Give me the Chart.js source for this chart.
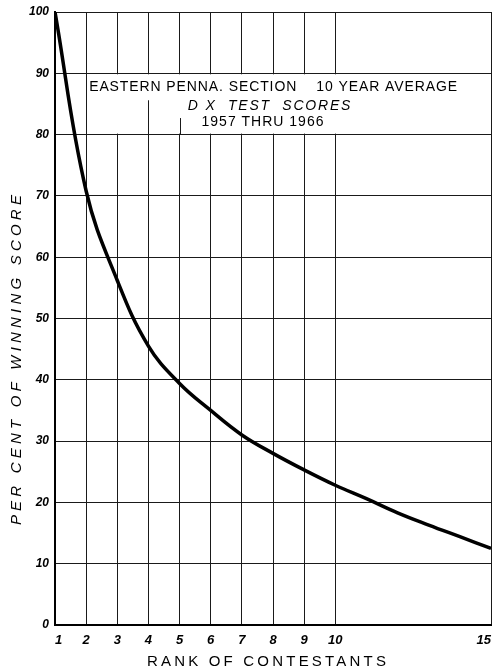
<!DOCTYPE html>
<html>
<head>
<meta charset="utf-8">
<script src="https://cdn.jsdelivr.net/npm/chart.js@4.4.1/dist/chart.umd.min.js"></script>
<style>
  html, body { margin: 0; padding: 0; background: #fff; }
  #wrap { width: 492px; height: 670px; }
</style>
</head>
<body>
<div id="wrap"><canvas id="rankChart" width="492" height="670"></canvas></div>
<script>
// rank of contestant vs. per cent of the winning score
const ranks = [1, 2, 3, 4, 5, 6, 7, 8, 9, 10, 11, 12, 13, 14, 15];
const percentOfWinner = [100, 70.8, 56.2, 45.5, 39.4, 35, 31, 28, 25.3, 22.8, 20.6, 18.3, 16.3, 14.4, 12.5];
const rankTicks = [1, 2, 3, 4, 5, 6, 7, 8, 9, 10, 15];
const headerLines = ['EASTERN PENNA. SECTION    10 YEAR AVERAGE', 'D X  TEST  SCORES', '1957 THRU 1966'];

const ink = '#1a1a1a';

// white panel with the heading, laid over the grid between 80 and 90
const headerPanel = {
  id: 'headerPanel',
  beforeDatasetsDraw(chart) {
    const { ctx, chartArea: a, scales: { x, y } } = chart;
    const top = y.getPixelForValue(90) + 1;
    const bottom = y.getPixelForValue(80) - 1;
    const left = x.getPixelForValue(2) + 1;
    ctx.save();
    ctx.fillStyle = '#fff';
    ctx.fillRect(left, top, a.right - left - 1, bottom - top);

    // two grid lines poke up into the panel
    ctx.strokeStyle = ink;
    ctx.lineWidth = 1;
    [[4, 85.6], [5, 82.7]].forEach(([r, v]) => {
      const px = Math.round(x.getPixelForValue(r)) + 0.5;
      ctx.beginPath();
      ctx.moveTo(px, y.getPixelForValue(v));
      ctx.lineTo(px, bottom + 1);
      ctx.stroke();
    });

    ctx.fillStyle = '#000';
    ctx.textBaseline = 'middle';
    ctx.font = '14px "Liberation Sans"';
    ctx.letterSpacing = '0.9px';
    ctx.textAlign = 'left';
    ctx.fillText(headerLines[0], left + 2, y.getPixelForValue(87.8));
    ctx.textAlign = 'center';
    ctx.font = 'italic 14px "Liberation Sans"';
    ctx.letterSpacing = '1.8px';
    ctx.fillText(headerLines[1], 270, y.getPixelForValue(84.7));
    ctx.letterSpacing = '1px';
    ctx.font = '14px "Liberation Sans"';
    ctx.fillText(headerLines[2], 263, y.getPixelForValue(82));
    ctx.restore();
  },
  afterDraw(chart) {
    const { ctx, chartArea: a } = chart;
    ctx.save();
    ctx.fillStyle = '#000';
    ctx.textAlign = 'center';
    ctx.textBaseline = 'middle';
    // x axis title
    ctx.font = '15px "Liberation Sans"';
    ctx.letterSpacing = '3.2px';
    ctx.fillText('RANK OF CONTESTANTS', 268, a.bottom + 37);
    // y axis title, sits a little below the middle of the axis
    ctx.font = 'italic 15px "Liberation Sans"';
    ctx.letterSpacing = '4.2px';
    ctx.translate(17, 358);
    ctx.rotate(-Math.PI / 2);
    ctx.fillText('PER CENT OF WINNING SCORE', 0, 0);
    ctx.restore();
  }
};

const tickFont = { family: 'Liberation Sans', size: 13, style: 'italic', weight: 'bold' };

new Chart(document.getElementById('rankChart').getContext('2d'), {
  type: 'line',
  data: {
    labels: ranks,
    datasets: [{
      data: ranks.map((r, i) => ({ x: r, y: percentOfWinner[i] })),
      borderColor: '#000',
      borderWidth: 3.5,
      pointRadius: 0,
      tension: 0.4,
      fill: false
    }]
  },
  options: {
    responsive: false,
    animation: false,
    layout: { padding: { top: 12, right: 1, left: 0, bottom: 0 } },
    plugins: {
      legend: { display: false },
      tooltip: { enabled: false }
    },
    scales: {
      x: {
        type: 'linear',
        min: 1,
        max: 15,
        afterBuildTicks: scale => { scale.ticks = rankTicks.map(v => ({ value: v })); },
        afterFit: scale => {
          scale.height = 45;
          scale.paddingLeft = 0;
          scale.paddingRight = 0;
        },
        grid: { color: ink, lineWidth: 1, drawTicks: false },
        border: { color: '#000', width: 2 },
        ticks: { color: '#000', font: tickFont, padding: 8, maxRotation: 0, autoSkip: false, align: 'inner' }
      },
      y: {
        min: 0,
        max: 100,
        afterFit: scale => {
          scale.width = 55;
          scale.paddingTop = 0;
          scale.paddingBottom = 0;
        },
        grid: { color: ink, lineWidth: 1, drawTicks: false },
        border: { color: '#000', width: 2 },
        ticks: { stepSize: 10, color: '#000', font: { ...tickFont, size: 12 }, padding: 6 }
      }
    }
  },
  plugins: [headerPanel]
});
</script>
</body>
</html>
